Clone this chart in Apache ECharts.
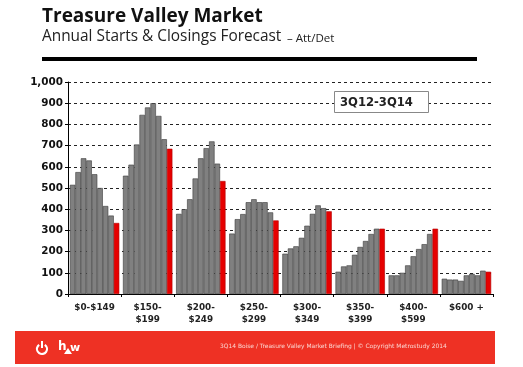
<!DOCTYPE html>
<html><head><meta charset="utf-8">
<style>html,body{margin:0;padding:0;background:#fff}#c{width:523px;height:367px}</style>
<script src="https://cdn.jsdelivr.net/npm/echarts@6/dist/echarts.min.js"></script></head>
<body><div id="c"></div>
<script>
const categories = ['$0-$149','$150-\n$199','$200-\n$249','$250-\n$299','$300-\n$349','$350-\n$399','$400-\n$599','$600 +'];
const g0 = [515,575,640,630,565,500,415,370,335];
const g1 = [558,610,705,845,880,900,840,730,685];
const g2 = [378,400,447,545,640,688,720,615,533];
const g3 = [285,353,377,433,447,433,433,385,347];
const g4 = [190,215,225,265,322,378,418,405,390];
const g5 = [105,130,135,185,222,250,283,308,308];
const g6 = [88,88,100,135,178,212,235,283,308];
const g7 = [72,68,68,62,88,95,88,110,105];
const groups = [g0,g1,g2,g3,g4,g5,g6,g7];
const font = 'DejaVu Sans';
const series = [];
for (let s = 0; s < 9; s++) {
  series.push({
    type:'bar', barGap:'0%', barCategoryGap:'7%',
    data: groups.map(g => g[s]),
    itemStyle:{ color: s === 8 ? '#e60000' : '#808080', borderColor: s === 8 ? '#b00000' : '#3a3a3a', borderWidth:0.6 },
    silent:true
  });
}
const chart = echarts.init(document.getElementById('c'), null, {renderer:'canvas'});
chart.setOption({
  animation:false,
  grid:{left:68,right:30,top:82,bottom:73},
  xAxis:{type:'category',data:categories,
    axisLine:{lineStyle:{color:'#000',width:1}},
    axisTick:{show:true,length:3,lineStyle:{color:'#000'}},
    axisLabel:{color:'#222',fontFamily:font,fontWeight:'bold',fontSize:8.8,lineHeight:12.5,margin:7,interval:0}},
  yAxis:{type:'value',min:0,max:1000,interval:100,
    axisLine:{show:true,lineStyle:{color:'#000',width:1}},
    axisTick:{show:true,length:3,lineStyle:{color:'#000'}},
    splitLine:{show:true,lineStyle:{color:'#222',type:[3,3],width:1}},
    axisLabel:{color:'#111',fontFamily:font,fontWeight:'bold',fontSize:10.4,margin:5,
      formatter:v=>v.toLocaleString('en-US')}},
  series,
  graphic:[
    {type:'text',left:42,top:7,style:{text:'Treasure Valley Market',font:'bold 19px "Open Sans"',fill:'#111'}},
    {type:'text',left:42,top:29,style:{text:'Annual Starts & Closings Forecast',font:'15.4px "Open Sans"',fill:'#222'}},
    {type:'text',left:287,top:33,style:{text:'– Att/Det',font:'11.5px "Open Sans"',fill:'#222'}},
    {type:'rect',shape:{x:42,y:57,width:435,height:4},style:{fill:'#000'}},
    {type:'rect',z:10,shape:{x:334.5,y:91.5,width:94,height:21},style:{fill:'#fff',stroke:'#888',lineWidth:1}},
    {type:'text',z:11,left:340,top:97,style:{text:'3Q12-3Q14',font:'bold 11.6px "DejaVu Sans"',fill:'#222'}},
    {type:'rect',shape:{x:15,y:331,width:480,height:33},style:{fill:'#ee3124'}},
    {type:'arc',shape:{cx:42,cy:349,r:5,startAngle:-Math.PI/2+0.6,endAngle:-Math.PI/2-0.6,clockwise:true},style:{stroke:'#fff',lineWidth:2.2,fill:'none'}},
    {type:'rect',shape:{x:41,y:341,width:2,height:7},style:{fill:'#fff'}},
    {type:'text',left:58,top:341,style:{text:'h',font:'bold 12px "DejaVu Sans"',fill:'#fff'}},
    {type:'polygon',shape:{points:[[64,354],[72,354],[68,348]]},style:{fill:'#fff'}},
    {type:'text',left:70,top:343,style:{text:'w',font:'bold 11px "DejaVu Sans"',fill:'#fff'}},
    {type:'text',left:220,top:343,style:{text:'3Q14 Boise / Treasure Valley Market Briefing | © Copyright Metrostudy 2014',font:'5.95px "DejaVu Sans"',fill:'#fbd5d0'}}
  ]
});
</script></body></html>
